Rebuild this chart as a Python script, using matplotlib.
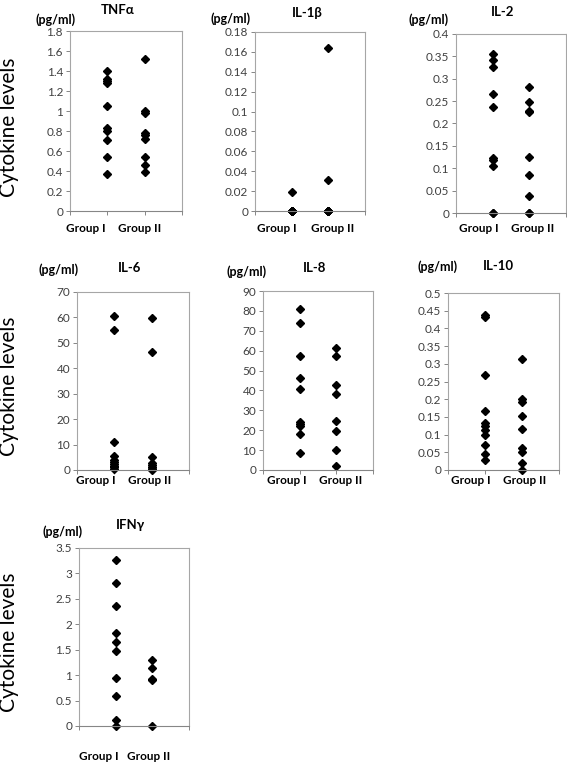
import matplotlib
matplotlib.use("Agg")
import matplotlib.pyplot as plt

plt.rcParams["font.family"] = ["Lato", "DejaVu Sans"]

groups = ["Group I", "Group II"]

tnf_g1 = [1.40, 1.32, 1.30, 1.28, 1.05, 0.83, 0.80, 0.71, 0.54, 0.37]
tnf_g2 = [1.52, 1.00, 0.98, 0.78, 0.76, 0.72, 0.54, 0.46, 0.39]

il1b_g1 = [0.019, 0, 0, 0, 0, 0, 0, 0, 0, 0]
il1b_g2 = [0.164, 0.031, 0, 0, 0, 0, 0, 0, 0]

il2_g1 = [0.356, 0.343, 0.326, 0.267, 0.236, 0.124, 0.119, 0.106, 0, 0]
il2_g2 = [0.282, 0.249, 0.229, 0.225, 0.126, 0.085, 0.038, 0, 0]

il6_g1 = [60.5, 55.0, 11.0, 5.5, 4.0, 3.0, 2.5, 1.5, 1.0, 0.5]
il6_g2 = [59.8, 46.5, 5.2, 2.8, 1.8, 1.0, 0.5, 0.2, 0]

il8_g1 = [81.0, 73.9, 57.5, 46.3, 40.6, 24.0, 23.1, 22.1, 17.9, 8.5]
il8_g2 = [61.3, 57.5, 42.9, 38.4, 24.6, 19.6, 10.0, 2.0]

il10_g1 = [0.437, 0.432, 0.267, 0.168, 0.133, 0.125, 0.112, 0.098, 0.071, 0.045, 0.028]
il10_g2 = [0.314, 0.201, 0.193, 0.153, 0.116, 0.062, 0.052, 0.019, 0]

ifn_g1 = [3.27, 2.81, 2.36, 1.82, 1.66, 1.47, 0.935, 0.595, 0.124, 0]
ifn_g2 = [1.30, 1.145, 0.92, 0.90, 0]

# name, group I, group II, ymax, ystep
panels = [
    ("TNFα", tnf_g1, tnf_g2, 1.8, 0.2),
    ("IL-1β", il1b_g1, il1b_g2, 0.18, 0.02),
    ("IL-2", il2_g1, il2_g2, 0.4, 0.05),
    ("IL-6", il6_g1, il6_g2, 70, 10),
    ("IL-8", il8_g1, il8_g2, 90, 10),
    ("IL-10", il10_g1, il10_g2, 0.5, 0.05),
    ("IFNγ", ifn_g1, ifn_g2, 3.5, 0.5),
]

# layout in pixels: axes box (l, r, top, bottom), title xy, (pg/ml) xy,
# group label centres x and y
layout = [
    ((70, 182, 31, 211), (118, 10), (56, 20), (86, 140), 228),
    ((255, 365, 32, 211), (307, 13), (231, 19), (277, 333), 228),
    ((456, 566, 34, 213), (503, 12), (429, 20), (479, 533), 228),
    ((77, 189, 292, 470), (130, 268), (59, 270), (96, 150), 480),
    ((263, 373, 291, 470), (315, 268), (247, 272), (287, 341), 480),
    ((448, 559, 293, 470), (498, 266), (438, 267), (471, 525), 480),
    ((79, 189, 548, 726), (130, 525), (63, 532), (99, 149), 757),
]

W, H = 567, 763
fig = plt.figure(figsize=(W / 100, H / 100), dpi=100)


def fmt(v):
    return f"{v:.2f}".rstrip("0").rstrip(".")


for (name, g1, g2, ymax, step), (box, tpos, ppos, gx, gy) in zip(panels, layout):
    l, r, t, b = box
    ax = fig.add_axes([l / W, 1 - b / H, (r - l) / W, (b - t) / H])
    ax.plot([1] * len(g1), g1, "D", color="black", markersize=3.6, clip_on=False)
    ax.plot([2] * len(g2), g2, "D", color="black", markersize=3.6, clip_on=False)
    ax.set_xlim(0, 3)
    ax.set_ylim(0, ymax)
    n = int(round(ymax / step))
    ticks = [i * step for i in range(n + 1)]
    ax.set_yticks(ticks)
    ax.set_yticklabels([fmt(v) for v in ticks])
    ax.set_xticks([0, 1, 2, 3])
    ax.set_xticklabels([])
    for sp in ax.spines.values():
        sp.set_color("#a6a6a6")
        sp.set_linewidth(0.8)
    ax.spines["bottom"].set_color("#868686")
    ax.tick_params(axis="y", labelsize=8.5, colors="#404040", length=3, width=0.7, pad=2)
    ax.tick_params(axis="x", length=3, width=0.7, color="#868686")
    ax.tick_params(axis="y", color="#868686")

    for g, x in zip(groups, gx):
        fig.text(x / W, 1 - gy / H, g, ha="center", va="center", fontsize=8.5,
                 fontweight="bold", color="black")

    fig.text(tpos[0] / W, 1 - tpos[1] / H, name, ha="center", va="center",
             fontsize=9.5, fontweight="bold", color="black")
    fig.text(ppos[0] / W, 1 - ppos[1] / H, "(pg/ml)", ha="center", va="center",
             fontsize=9, fontweight="bold", color="black")

for yc in [127, 386, 642]:
    fig.text(9 / W, 1 - yc / H, "Cytokine levels", rotation=90, ha="center", va="center",
             fontsize=15, color="black")

fig.savefig("out.png", dpi=100)
